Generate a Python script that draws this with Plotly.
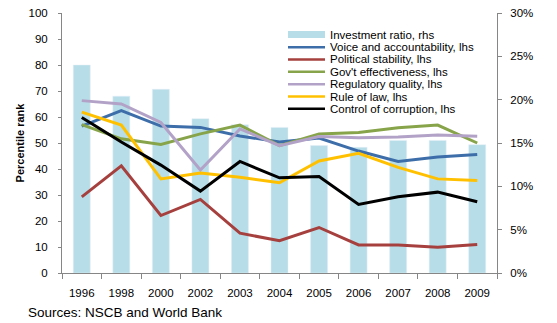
import plotly.graph_objects as go

years = ["1996", "1998", "2000", "2002", "2003", "2004", "2005", "2006", "2007", "2008", "2009"]
investment_ratio = [24.0, 20.4, 21.2, 17.8, 17.1, 16.8, 14.7, 14.5, 15.3, 15.3, 14.8]
voice = [56.5, 62.5, 56.5, 56.0, 52.7, 50.4, 51.9, 46.9, 42.9, 44.6, 45.6]
political = [29.3, 41.2, 22.1, 28.3, 15.3, 12.4, 17.5, 10.8, 10.8, 9.9, 11.0]
gov_eff = [57.1, 51.6, 49.4, 53.5, 56.9, 49.0, 53.5, 54.0, 55.9, 56.9, 50.0]
regulatory = [66.3, 65.0, 57.9, 39.6, 55.4, 49.0, 52.5, 52.0, 52.3, 53.1, 52.6]
rule_of_law = [61.9, 56.9, 36.2, 38.5, 36.8, 34.7, 43.1, 46.0, 40.6, 36.2, 35.6]
corruption = [59.8, 50.4, 41.5, 31.5, 42.9, 36.6, 37.1, 26.4, 29.3, 31.1, 27.4]

line_names = ["Voice and accountability, lhs", "Political stability, lhs", "Gov't effectiveness, lhs",
              "Regulatory quality, lhs", "Rule of law, lhs", "Control of corruption, lhs"]
line_values = [voice, political, gov_eff, regulatory, rule_of_law, corruption]
line_colors = ["#3E6EAA", "#A6403E", "#87A44A", "#B3A2C7", "#FFC000", "#000000"]
bar_name = "Investment ratio, rhs"
bar_color = "#B7DEE8"

FONT = "Liberation Sans, Arial, sans-serif"
AX = "#868686"

fig = go.Figure()
fig.add_trace(go.Bar(x=years, y=investment_ratio, name=bar_name, marker_color=bar_color,
                     width=0.43, yaxis="y", showlegend=False))
for name, vals, col in zip(line_names, line_values, line_colors):
    fig.add_trace(go.Scatter(x=years, y=vals, name=name, mode="lines",
                             line=dict(color=col, width=3), yaxis="y2", showlegend=False))

# plot area in px: x 62..497, y 7..273
L, R, T, B = 62, 497, 7, 273
W, H = 557, 323
def px(xp):
    return (xp - L) / (R - L)
def py(yp):
    return (B - yp) / (B - T)

shapes = []
annotations = []
legend_rows = [bar_name] + line_names
legend_cols = [bar_color] + line_colors
row_y = [29, 42, 54.5, 67, 80, 92.5, 105]
for i, (nm, col) in enumerate(zip(legend_rows, legend_cols)):
    yc = row_y[i]
    if i == 0:
        shapes.append(dict(type="rect", xref="paper", yref="paper",
                           x0=px(288), x1=px(325), y0=py(yc + 3.5), y1=py(yc - 3.5),
                           fillcolor=col, line=dict(width=0)))
    else:
        shapes.append(dict(type="line", xref="paper", yref="paper",
                           x0=px(288), x1=px(325), y0=py(yc), y1=py(yc),
                           line=dict(color=col, width=2.5)))
    annotations.append(dict(text=nm, xref="paper", yref="paper", x=px(328), y=py(yc),
                            xanchor="left", yanchor="middle", showarrow=False,
                            font=dict(family=FONT, size=11.5, color="#000000")))

annotations.append(dict(text="Sources: NSCB and World Bank", xref="paper", yref="paper",
                        x=px(26), y=py(313), xanchor="left", yanchor="middle", showarrow=False,
                        font=dict(family=FONT, size=13.5, color="#000000")))

fig.update_layout(
    width=W, height=H,
    margin=dict(l=L, r=W - R, t=T, b=H - B, pad=0),
    paper_bgcolor="white", plot_bgcolor="white",
    font=dict(family=FONT, size=11, color="#000000"),
    bargap=0.57,
    xaxis=dict(type="category", showline=True, linecolor=AX, linewidth=1,
               ticks="outside", tickson="boundaries", ticklen=5, tickcolor=AX,
               showgrid=False, ticklabelstandoff=9, tickfont=dict(size=11.5)),
    yaxis=dict(side="right", range=[0, 30], dtick=5, ticksuffix="%", showline=True,
               linecolor=AX, ticks="outside", ticklen=4, tickcolor=AX, showgrid=False,
               zeroline=False, ticklabelstandoff=6, tickfont=dict(size=11.5)),
    yaxis2=dict(overlaying="y", side="left", range=[0, 100], dtick=10, showline=True,
                linecolor=AX, ticks="outside", ticklen=3, tickcolor=AX, showgrid=False,
                zeroline=False, ticklabelstandoff=8, tickfont=dict(size=11.5),
                title=dict(text="<b>Percentile rank</b>", font=dict(size=11), standoff=1)),
    shapes=shapes, annotations=annotations, showlegend=False,
)

fig.write_html("out.html")
